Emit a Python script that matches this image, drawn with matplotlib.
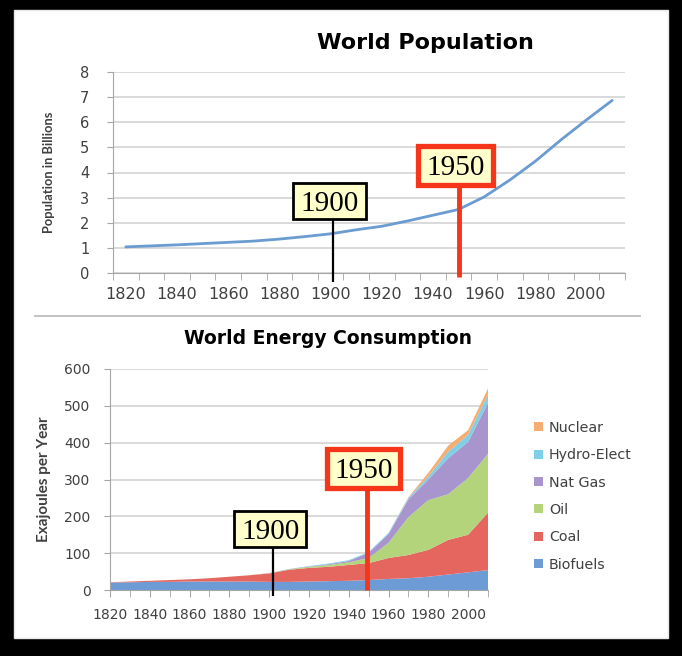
import numpy as np
import matplotlib.pyplot as plt
from matplotlib.patches import Rectangle, Patch
from matplotlib.transforms import blended_transform_factory

W, H = 682, 656

# ---- data ----
pop_years = list(range(1820, 2011, 10))
population = [1.04, 1.08, 1.12, 1.17, 1.22, 1.27, 1.35, 1.45, 1.56, 1.72,
              1.86, 2.07, 2.30, 2.53, 3.03, 3.70, 4.45, 5.30, 6.10, 6.87]

energy_years = list(range(1820, 2011, 10))
biofuels = [20, 21, 22, 22, 23, 23, 23, 23, 22, 22, 23, 24, 25, 27, 30, 32, 36, 42, 48, 54]
coal = [1, 2, 3, 5, 6, 9, 13, 17, 23, 33, 37, 39, 43, 46, 57, 63, 73, 94, 102, 156]
oil = [0, 0, 0, 0, 0, 0, 0, 0.3, 0.5, 1, 3, 5, 7, 14, 41, 103, 135, 124, 154, 160]
nat_gas = [0, 0, 0, 0, 0, 0, 0, 0, 0.5, 0.5, 1, 2, 4, 14, 24, 48, 56, 98, 98, 138]
hydro = [0, 0, 0, 0, 0, 0, 0, 0, 0, 0.5, 1, 2, 2, 2, 3, 4, 8, 17, 19, 22]
nuclear = [0, 0, 0, 0, 0, 0, 0, 0, 0, 0, 0, 0, 0, 0, 0, 2, 10, 17, 13, 17]
source_names = ['Biofuels', 'Coal', 'Oil', 'Nat Gas', 'Hydro-Elect', 'Nuclear']
source_colors = ['#6d9bd6', '#e4665f', '#b3d47a', '#a895cd', '#7dd0e8', '#f7ac74']

marked_years = [1900, 1950]

GRID = '#cfcfcf'
AXIS = '#a6a6a6'
TXT = '#404040'


def px(x, y):
    return x / W, 1 - y / H


def axes_px(fig, left, top, right, bottom):
    return fig.add_axes([left / W, 1 - bottom / H, (right - left) / W, (bottom - top) / H])


def style_axes(ax):
    ax.patch.set_alpha(0)
    for s in ['top', 'right']:
        ax.spines[s].set_visible(False)
    ax.spines['left'].set_color(AXIS)
    ax.spines['bottom'].set_color(AXIS)
    ax.yaxis.grid(True, color=GRID, linewidth=1.1)
    ax.set_axisbelow(True)
    ax.tick_params(axis='y', colors=AXIS, labelcolor=TXT, length=4, direction='out')
    ax.tick_params(axis='x', which='both', colors=AXIS, labelcolor=TXT, direction='out')


def year_marker(ax, label, xpos, box_xc, box_w, box_yc, box_h, line_end, color, lw, box_lw):
    tr = blended_transform_factory(ax.transData, ax.transAxes)
    ax.plot([xpos, xpos], [box_yc - box_h / 2, line_end], color=color, lw=lw,
            transform=tr, clip_on=False, zorder=5, solid_capstyle='butt')
    ax.add_patch(Rectangle((box_xc - box_w / 2, box_yc - box_h / 2), box_w, box_h,
                           transform=tr, facecolor='#ffffcc', edgecolor=color,
                           lw=box_lw, clip_on=False, zorder=6))
    ax.text(box_xc, box_yc, label, transform=tr, zorder=7, fontsize=21,
            family='Liberation Serif', ha='center', va='center_baseline', color='black')


fig = plt.figure(figsize=(W / 100, H / 100), dpi=100)
fig.patch.set_facecolor('black')
fig.patches.append(Rectangle(px(14, 638), 654 / W, 628 / H, transform=fig.transFigure,
                             facecolor='white', edgecolor='#e8e8e8', lw=1, zorder=-10))
fig.lines.append(plt.Line2D([35 / W, 640 / W], [1 - 316 / H] * 2, transform=fig.transFigure,
                            color='#bdbdbd', lw=1.3, zorder=-5))

# ---- top: population ----
ax1 = axes_px(fig, 113, 72, 625, 273)
style_axes(ax1)
n = len(pop_years)
x1 = np.arange(n)
ax1.plot(x1, population, color='#6a9bd1', lw=2.0, solid_capstyle='round', zorder=3)
ax1.set_xlim(-0.5, n - 0.5)
ax1.set_ylim(0, 8)
ax1.set_yticks(range(0, 9))
ax1.set_xticks(x1[::2])
ax1.set_xticklabels([str(y) for y in pop_years[::2]], fontsize=11.5)
ax1.set_xticks(np.arange(-0.5, n, 1), minor=True)
ax1.tick_params(axis='x', which='major', length=0, pad=10)
ax1.tick_params(axis='x', which='minor', length=5)
ax1.tick_params(axis='y', labelsize=10.5, pad=13)

fig.text(*px(425, 43), 'World Population', fontsize=16, fontweight='bold',
         ha='center', va='center', color='black')
fig.text(*px(49, 172), 'Population in Billions', fontsize=9.3, fontweight='bold',
         family='Lato', rotation=90, ha='center', va='center', color=TXT)

# ---- bottom: energy ----
ax2 = axes_px(fig, 110, 369, 488, 590)
style_axes(ax2)
m = len(energy_years)
x2 = np.arange(m)
ax2.stackplot(x2, biofuels, coal, oil, nat_gas, hydro, nuclear,
              colors=source_colors, labels=source_names, lw=0, zorder=2)
ax2.set_xlim(0, m - 1)
ax2.set_ylim(0, 600)
ax2.set_yticks(range(0, 601, 100))
ax2.set_xticks(x2[::2])
ax2.set_xticklabels([str(y) for y in energy_years[::2]], fontsize=10)
ax2.set_xticks(x2, minor=True)
ax2.tick_params(axis='x', which='both', length=5)
ax2.tick_params(axis='x', which='major', pad=8)
ax2.tick_params(axis='y', labelsize=10, pad=10)

fig.text(*px(328, 339), 'World Energy Consumption', fontsize=13.5, fontweight='bold',
         ha='center', va='center', color='black')
fig.text(*px(44, 479), 'Exajoules per Year', fontsize=11, fontweight='bold',
         family='Lato', rotation=90, ha='center', va='center', color=TXT)

handles = [Patch(facecolor=c, edgecolor='none', label=l)
           for l, c in zip(source_names, source_colors)][::-1]
fig.legend(handles=handles, loc='upper left', bbox_to_anchor=px(534, 421), frameon=False,
           fontsize=10.3, labelcolor=TXT, handlelength=0.6, handleheight=0.6,
           handletextpad=0.45, labelspacing=0.93, borderpad=0, borderaxespad=0)

# ---- year markers ----
i1900 = pop_years.index(marked_years[0])
i1950 = pop_years.index(marked_years[1])
year_marker(ax1, str(marked_years[0]), i1900 + 0.1, i1900 - 0.05, 2.85, 0.358, 0.179, -0.045,
            'black', 1.6, 2.0)
year_marker(ax1, str(marked_years[1]), i1950, i1950 - 0.12, 2.9, 0.535, 0.19, -0.02,
            '#f5361a', 3.5, 3.8)

j1900 = energy_years.index(marked_years[0])
j1950 = energy_years.index(marked_years[1])
year_marker(ax2, str(marked_years[0]), j1900 + 0.2, j1900 + 0.05, 3.6, 0.274, 0.163, -0.027,
            'black', 1.6, 2.0)
year_marker(ax2, str(marked_years[1]), j1950 - 0.1, j1950 - 0.25, 3.7, 0.55, 0.176, 0.0,
            '#f5361a', 3.5, 3.8)

fig.savefig('out.png', dpi=100, facecolor=fig.get_facecolor())
